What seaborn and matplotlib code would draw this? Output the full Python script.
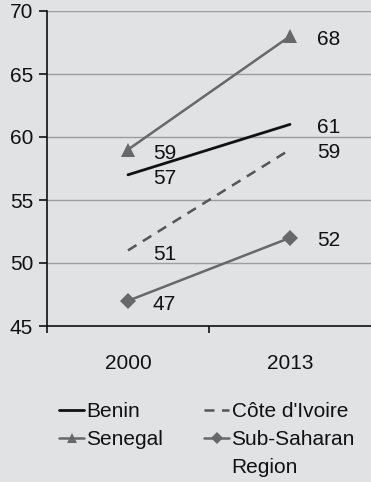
import matplotlib
matplotlib.use("Agg")
import matplotlib.pyplot as plt
import seaborn as sns
import pandas as pd

years = ["2000", "2013"]
benin = [57, 61]
cote_divoire = [51, 59]
senegal = [59, 68]
sub_saharan = [47, 52]
series_names = ["Benin", "Côte d'Ivoire", "Senegal", "Sub-Saharan"]

sns.set_theme(style="white")
plt.rcParams["font.family"] = ["Liberation Sans", "DejaVu Sans"]

FS = 15
bg = "#e1e2e4"
fig = plt.figure(figsize=(3.71, 4.82), dpi=100, facecolor=bg)
ax = fig.add_axes([47 / 371, 1 - 326 / 482, 1 - 47 / 371, (326 - 11) / 482])
ax.set_facecolor(bg)

styles = {
    "Benin": dict(color="#111111", linestyle="-", marker=None, lw=2.0),
    "Côte d'Ivoire": dict(color="#555555", linestyle=(0, (4, 3)), marker=None, lw=1.8),
    "Senegal": dict(color="#686868", linestyle="-", marker="^", lw=1.8),
    "Sub-Saharan": dict(color="#686868", linestyle="-", marker="D", lw=1.8),
}
values = [benin, cote_divoire, senegal, sub_saharan]

for name, vals in zip(series_names, values):
    df = pd.DataFrame({"year": years, "value": vals})
    st = styles[name]
    sns.lineplot(data=df, x="year", y="value", ax=ax, color=st["color"],
                 linestyle=st["linestyle"], linewidth=st["lw"],
                 marker=st["marker"], markersize=10 if st["marker"] == "^" else 8,
                 markeredgewidth=0, label=name, legend=False)

# value labels sit just right of each point
for name, vals in zip(series_names, values):
    ax.text(0 + 0.154, vals[0] - 0.3, f"{vals[0]}", fontsize=FS, color="#111111",
            ha="left", va="center")
    ax.text(1 + 0.167, vals[1] - 0.25, f"{vals[1]}", fontsize=FS,
            color="#111111", ha="left", va="center")

ax.set_xlim(-0.5, 1.5)
ax.set_ylim(45, 70)
ax.set_yticks([45, 50, 55, 60, 65, 70])
ax.yaxis.grid(True, color="#9d9d9d", linewidth=1.0)
ax.set_axisbelow(True)
ax.set_xlabel("")
ax.set_ylabel("")
for side in ["top", "right"]:
    ax.spines[side].set_visible(False)
for side in ["left", "bottom"]:
    ax.spines[side].set_color("#111111")
    ax.spines[side].set_linewidth(1.2)

ax.tick_params(axis="y", which="major", left=True, length=6, width=1.2,
               color="#111111", labelsize=FS, labelcolor="#111111", pad=4)
ax.set_xticks([0, 1])
ax.set_xticklabels(years)
ax.set_xticks([-0.5, 0.5], minor=True)
ax.tick_params(axis="x", which="major", bottom=False, labelsize=FS,
               labelcolor="#111111", pad=14)
ax.tick_params(axis="x", which="minor", bottom=True, length=5, width=1.2,
               color="#111111")

handles, labels = ax.get_legend_handles_labels()
order = [0, 2, 1, 3]
leg = fig.legend([handles[i] for i in order], [labels[i] for i in order],
                 loc="upper left", bbox_to_anchor=(59 / 371, 1 - 402 / 482),
                 ncol=2, frameon=False, fontsize=FS, handlelength=1.2,
                 handletextpad=0.12, columnspacing=1.95, labelspacing=0.45,
                 borderpad=0, borderaxespad=0, labelcolor="#111111",
                 markerscale=0.75)

# second line of the wrapped "Sub-Saharan Region" entry
fig.canvas.draw()
renderer = fig.canvas.get_renderer()
txt = leg.get_texts()[3]
bb = txt.get_window_extent(renderer).transformed(fig.transFigure.inverted())
fig.text(bb.x0, bb.y0 - (28 / 482), "Region", fontsize=FS, color="#111111",
         ha="left", va="bottom")

fig.savefig("out.png", dpi=100, facecolor=bg)
